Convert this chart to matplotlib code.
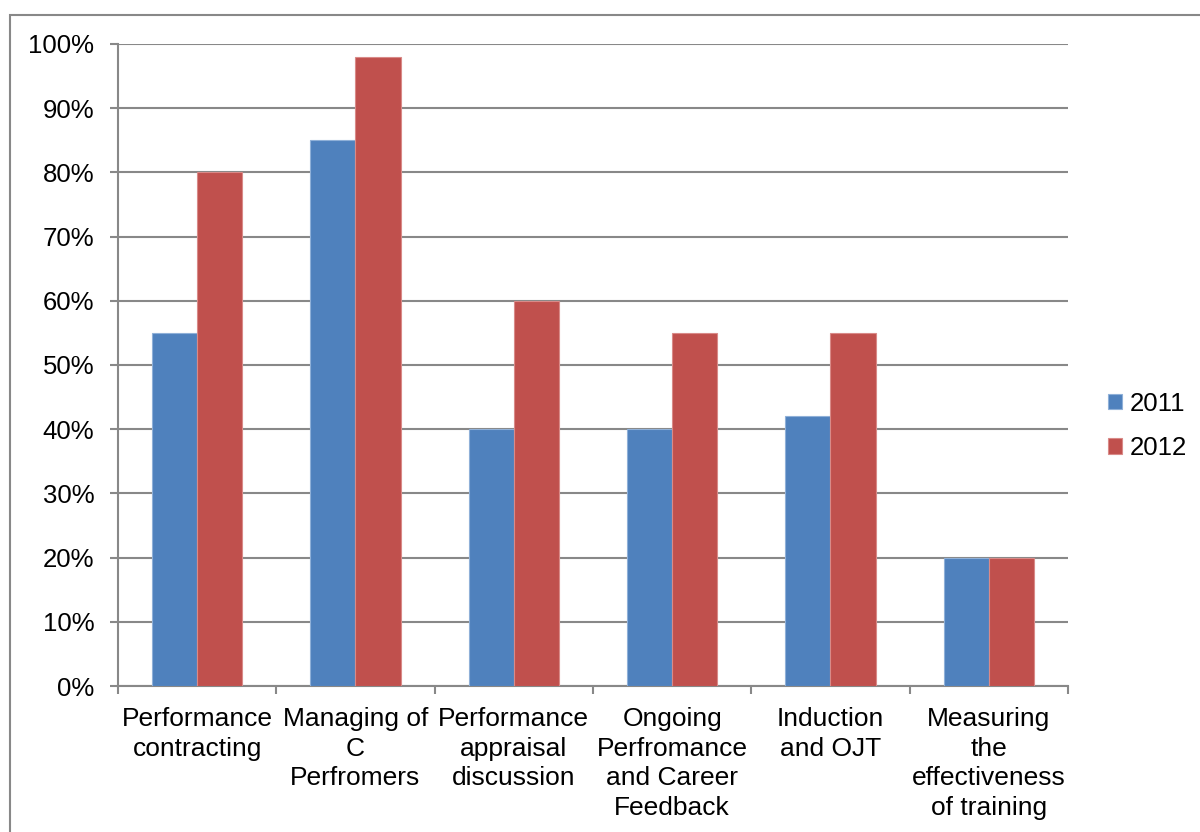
import numpy as np
import matplotlib
matplotlib.use("Agg")
import matplotlib.pyplot as plt
from matplotlib.patches import Rectangle
from matplotlib.ticker import FixedLocator, PercentFormatter

plt.rcParams["font.family"] = ["Liberation Sans", "DejaVu Sans"]

categories = ["Performance\ncontracting", "Managing of\nC\nPerfromers",
              "Performance\nappraisal\ndiscussion", "Ongoing\nPerfromance\nand Career\nFeedback",
              "Induction\nand OJT", "Measuring\nthe\neffectiveness\nof training"]
series = ["2011", "2012"]
vals_2011 = [55, 85, 40, 40, 42, 20]
vals_2012 = [80, 98, 60, 55, 55, 20]
colors = ["#4F81BD", "#C0504D"]
edges = ["#8FB0D8", "#D98A88"]

fig = plt.figure(figsize=(12, 8.32), dpi=100)
ax = fig.add_axes([118/1200, 1-686/832, 950/1200, 642/832])

# outer chart frame (left and top only visible)
fig.patches.append(Rectangle((10/1200, -0.2), 1.2, 0.2 + 1-15/832, transform=fig.transFigure,
                             fill=False, edgecolor="#888888", linewidth=1.5, zorder=0))

x = np.arange(len(categories))
w = 1/3.5
for i, (name, vals) in enumerate(zip(series, [vals_2011, vals_2012])):
    ax.bar(x + (i - 0.5)*w, vals, width=w, color=colors[i], edgecolor=edges[i],
           linewidth=0.8, label=name, zorder=3)

ax.set_xlim(-0.5, len(categories) - 0.5)
ax.set_ylim(0, 100)
ax.set_yticks(np.arange(0, 101, 10))
ax.yaxis.set_major_formatter(PercentFormatter(decimals=0))
ax.grid(axis="y", color="#888888", linewidth=1.5, zorder=0)
ax.set_axisbelow(True)

ax.set_xticks(x)
ax.set_xticklabels(categories, fontsize=19, linespacing=1.3, va="top")
ax.xaxis.set_minor_locator(FixedLocator(np.arange(-0.5, len(categories), 1)))
ax.tick_params(axis="x", which="major", length=0, pad=15)
ax.tick_params(axis="x", which="minor", length=6, width=1.5, color="#888888")
ax.tick_params(axis="y", length=6, width=1.5, color="#888888", labelsize=18.5, pad=11)

for s in ["top", "right"]:
    ax.spines[s].set_visible(False)
for s in ["left", "bottom"]:
    ax.spines[s].set_color("#888888")
    ax.spines[s].set_linewidth(1.5)

ax.legend(loc="center left", bbox_to_anchor=(1.018, 0.405), frameon=False, fontsize=18.5,
          handlelength=0.55, handleheight=0.55, handletextpad=0.3, labelspacing=0.8)

fig.savefig("out.png", dpi=100)
